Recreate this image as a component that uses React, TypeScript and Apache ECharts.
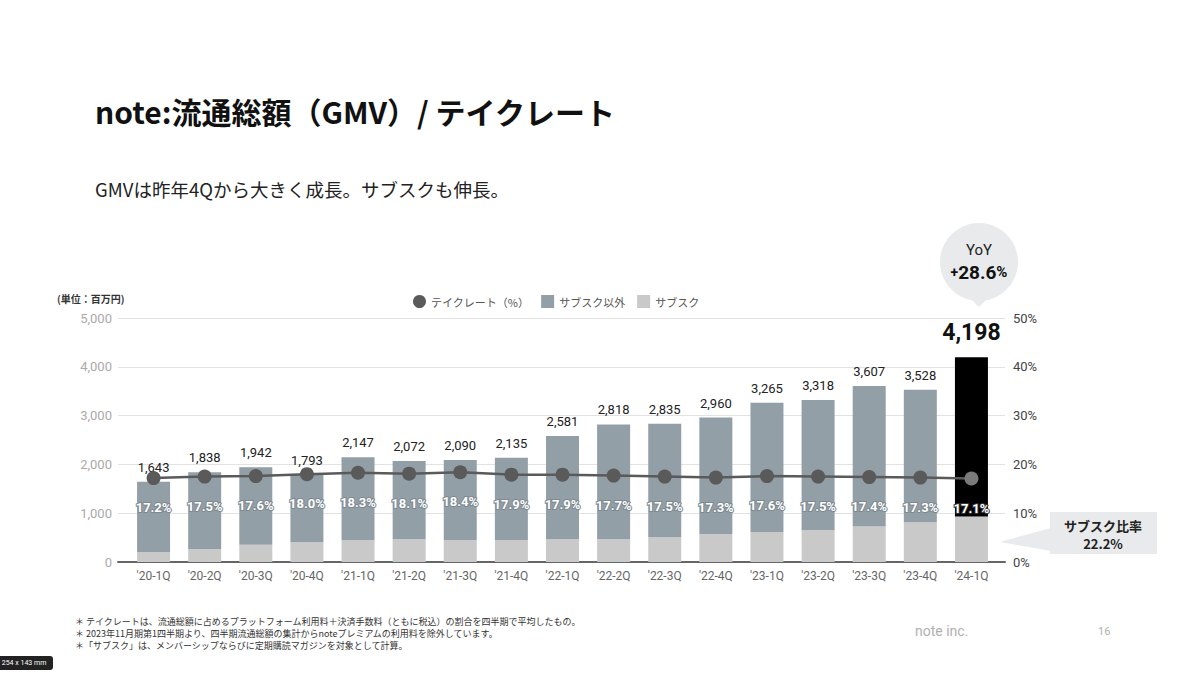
import React, { useEffect, useRef } from "react";
import * as echarts from "echarts";

const categories = ["'20-1Q", "'20-2Q", "'20-3Q", "'20-4Q", "'21-1Q", "'21-2Q", "'21-3Q", "'21-4Q", "'22-1Q", "'22-2Q", "'22-3Q", "'22-4Q", "'23-1Q", "'23-2Q", "'23-3Q", "'23-4Q", "'24-1Q"];
const totalGmv = [1643, 1838, 1942, 1793, 2147, 2072, 2090, 2135, 2581, 2818, 2835, 2960, 3265, 3318, 3607, 3528, 4198];
const subscGmv = [205, 267, 356, 404, 452, 466, 452, 452, 466, 466, 507, 575, 616, 658, 726, 815, 932];
const takeRate = [17.2, 17.5, 17.6, 18.0, 18.3, 18.1, 18.4, 17.9, 17.9, 17.7, 17.5, 17.3, 17.6, 17.5, 17.4, 17.3, 17.1];
const leftTicks = [0, 1000, 2000, 3000, 4000, 5000];
const rightTicks = [0, 10, 20, 30, 40, 50];

const FONT = "'Noto Sans CJK JP', 'Noto Sans', sans-serif";
const NUMFONT = "Roboto, 'Noto Sans', sans-serif";

export default function App() {
  const ref = useRef<HTMLDivElement>(null);
  useEffect(() => {
    if (!ref.current) return;
    const chart = echarts.init(ref.current, undefined, { renderer: "svg" });
    const last = categories.length - 1;
    const otherData = totalGmv.map((t, i) => {
      const v = t - subscGmv[i];
      if (i === last) {
        return {
          value: v,
          itemStyle: { color: "#000000" },
          label: { fontSize: 23, fontWeight: "bold", color: "#111", distance: 13, fontFamily: NUMFONT },
        };
      }
      return v;
    });
    const rateData = takeRate.map((r, i) =>
      i === last
        ? { value: r, itemStyle: { color: "#7a7a7a" }, label: { textBorderColor: "#333" } }
        : r
    );
    const lMin = leftTicks[0];
    const lMax = leftTicks[leftTicks.length - 1];
    const rMin = rightTicks[0];
    const rMax = rightTicks[rightTicks.length - 1];
    const option: any = {
      animation: false,
      textStyle: { fontFamily: FONT },
      legend: {
        top: 290,
        left: 408,
        itemGap: 12,
        itemWidth: 13,
        itemHeight: 13,
        textStyle: { color: "#555", fontSize: 11, fontFamily: FONT },
        data: [
          { name: "テイクレート（%）", icon: "circle", itemStyle: { color: "#5a5a5a" } },
          { name: "サブスク以外", icon: "rect" },
          { name: "サブスク", icon: "rect" },
        ],
      },
      grid: [
        { left: 118, right: 195, top: 318, bottom: 114 },
        { left: 128, right: 203, top: 318, bottom: 114 },
      ],
      xAxis: [
        {
          type: "category",
          gridIndex: 0,
          data: categories,
          axisTick: { show: false },
          axisLine: { lineStyle: { color: "#666", width: 2 } },
          axisLabel: { show: false },
        },
        {
          type: "category",
          gridIndex: 1,
          data: categories,
          axisTick: { show: false },
          axisLine: { show: false },
          axisLabel: { color: "#666", fontSize: 12, margin: 8, fontFamily: NUMFONT },
        },
      ],
      yAxis: [
        {
          type: "value",
          gridIndex: 0,
          min: lMin,
          max: lMax,
          interval: 1000,
          axisLine: { show: false },
          axisTick: { show: false },
          splitLine: { lineStyle: { color: "#e2e2e2", width: 1 } },
          axisLabel: {
            color: "#aaa",
            fontSize: 13,
            margin: 6,
            fontFamily: NUMFONT,
            formatter: (v: number) => v.toLocaleString("en-US"),
          },
        },
        {
          type: "value",
          gridIndex: 0,
          min: rMin,
          max: rMax,
          interval: 10,
          position: "right",
          axisLine: { show: false },
          axisTick: { show: false },
          splitLine: { show: false },
          axisLabel: { color: "#444", fontSize: 13, margin: 8, fontFamily: NUMFONT, formatter: "{value}%" },
        },
        {
          type: "value",
          gridIndex: 1,
          min: lMin,
          max: lMax,
          interval: 1000,
          show: false,
        },
        {
          type: "value",
          gridIndex: 1,
          min: rMin,
          max: rMax,
          interval: 10,
          position: "right",
          show: false,
        },
      ],
      series: [
        {
          name: "サブスク",
          type: "bar",
          stack: "gmv",
          xAxisIndex: 1,
          yAxisIndex: 2,
          barWidth: 33,
          itemStyle: { color: "#c9c9c9" },
          data: subscGmv,
          z: 2,
        },
        {
          name: "サブスク以外",
          type: "bar",
          stack: "gmv",
          xAxisIndex: 1,
          yAxisIndex: 2,
          barWidth: 33,
          itemStyle: { color: "#939fa6" },
          data: otherData,
          z: 2,
          label: {
            show: true,
            position: "top",
            distance: 8,
            color: "#222",
            fontSize: 13,
            fontFamily: NUMFONT,
            formatter: (p: any) => totalGmv[p.dataIndex].toLocaleString("en-US"),
          },
        },
        {
          name: "テイクレート（%）",
          type: "line",
          xAxisIndex: 1,
          yAxisIndex: 3,
          data: rateData,
          z: 5,
          symbol: "circle",
          symbolSize: 14,
          lineStyle: { color: "#5a5a5a", width: 2.5 },
          itemStyle: { color: "#5a5a5a" },
          label: {
            show: true,
            position: "bottom",
            distance: 16,
            color: "#fff",
            fontSize: 13,
            fontWeight: "bold",
            fontFamily: NUMFONT,
            textBorderColor: "#7d8890",
            textBorderWidth: 2,
            formatter: (p: any) => takeRate[p.dataIndex].toFixed(1) + "%",
          },
        },
      ],
      graphic: [
        {
          type: "text",
          left: 95,
          top: 96,
          style: { text: "note:流通総額（GMV）/ テイクレート", fontSize: 30, fontWeight: "bold", fill: "#111", fontFamily: FONT },
        },
        {
          type: "text",
          left: 95,
          top: 180,
          style: { text: "GMVは昨年4Qから大きく成長。サブスクも伸長。", fontSize: 18.5, fill: "#222", fontFamily: FONT },
        },
        {
          type: "text",
          left: 57,
          top: 293,
          style: { text: "(単位：百万円)", fontSize: 10, fontWeight: "bold", fill: "#333", fontFamily: FONT },
        },
        { type: "circle", shape: { cx: 979, cy: 262, r: 39 }, style: { fill: "#e8eaeb" } },
        { type: "polygon", shape: { points: [[970, 298], [988, 298], [979, 307]] }, style: { fill: "#e8eaeb" } },
        {
          type: "text",
          x: 979,
          y: 250,
          style: { text: "YoY", fontSize: 15, fill: "#222", align: "center", verticalAlign: "middle", fontFamily: NUMFONT },
        },
        {
          type: "text",
          x: 979,
          y: 272,
          style: {
            text: "{p|+}{b|28.6}{s|%}",
            align: "center",
            verticalAlign: "middle",
            rich: {
              p: { fontSize: 14, fontWeight: "bold", fill: "#111", fontFamily: NUMFONT },
              b: { fontSize: 19, fontWeight: "bold", fill: "#111", fontFamily: NUMFONT },
              s: { fontSize: 15, fontWeight: "bold", fill: "#111", fontFamily: NUMFONT },
            },
          },
        },
        { type: "rect", shape: { x: 1050, y: 512, width: 107, height: 42 }, style: { fill: "#e8eaeb" } },
        { type: "polygon", shape: { points: [[1051, 528], [1051, 551], [1000, 542]] }, style: { fill: "#e8eaeb" } },
        {
          type: "text",
          x: 1103,
          y: 525,
          style: { text: "サブスク比率", fontSize: 13, fontWeight: "bold", fill: "#222", align: "center", verticalAlign: "middle", fontFamily: FONT },
        },
        {
          type: "text",
          x: 1103,
          y: 543,
          style: { text: "22.2%", fontSize: 13, fontWeight: "bold", fill: "#222", align: "center", verticalAlign: "middle", fontFamily: FONT },
        },
        {
          type: "text",
          left: 75,
          top: 615,
          style: {
            text:
              "＊ テイクレートは、流通総額に占めるプラットフォーム利用料＋決済手数料（ともに税込）の割合を四半期で平均したもの。\n＊ 2023年11月期第1四半期より、四半期流通総額の集計からnoteプレミアムの利用料を除外しています。\n＊「サブスク」は、メンバーシップならびに定期購読マガジンを対象として計算。",
            fontSize: 9,
            lineHeight: 12,
            fill: "#333",
            fontFamily: FONT,
          },
        },
        {
          type: "text",
          left: 915,
          top: 624,
          style: { text: "note inc.", fontSize: 14, fill: "#b0b0b0", fontFamily: NUMFONT },
        },
        {
          type: "text",
          left: 1098,
          top: 626,
          style: { text: "16", fontSize: 11, fill: "#b0b0b0", fontFamily: NUMFONT },
        },
        { type: "rect", shape: { x: -4, y: 656, width: 57, height: 14, r: 3 }, style: { fill: "#222" } },
        {
          type: "text",
          x: 24,
          y: 663,
          style: { text: "254 x 143 mm", fontSize: 7, fill: "#fff", align: "center", verticalAlign: "middle", fontFamily: NUMFONT },
        },
      ],
    };
    chart.setOption(option);
    return () => chart.dispose();
  }, []);
  return (
    <div
      ref={ref}
      style={{ position: "absolute", left: 0, top: 0, width: 1200, height: 676, background: "#fff" }}
    />
  );
}
